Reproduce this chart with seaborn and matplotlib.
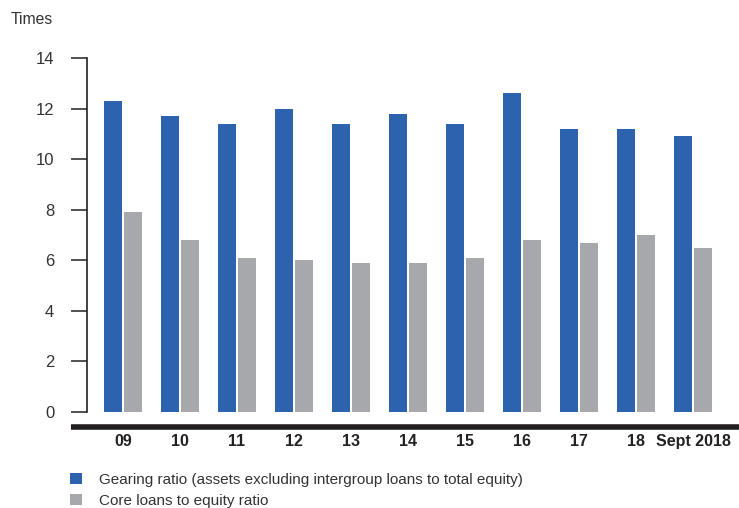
import matplotlib
matplotlib.use("Agg")
import matplotlib.pyplot as plt
from matplotlib.lines import Line2D
import pandas as pd
import seaborn as sns

# values
years = ["09", "10", "11", "12", "13", "14", "15", "16", "17", "18", "Sept 2018"]
gearing = [12.3, 11.7, 11.4, 12.0, 11.4, 11.8, 11.4, 12.6, 11.2, 11.2, 10.9]
core_loans = [7.9, 6.8, 6.1, 6.0, 5.9, 5.9, 6.1, 6.8, 6.7, 7.0, 6.5]
series_names = ["Gearing ratio (assets excluding intergroup loans to total equity)",
                "Core loans to equity ratio"]
colors = ["#2d62ae", "#a7a8ab"]

df = pd.DataFrame({
    "year": years * 2,
    "value": gearing + core_loans,
    "series": [series_names[0]] * len(years) + [series_names[1]] * len(years),
})

sns.set_style("white")
plt.rcParams["font.family"] = ["Liberation Sans", "DejaVu Sans"]
txt = "#333333"

fig = plt.figure(figsize=(7.39, 5.08), dpi=100)
ax = fig.add_axes([87 / 739, 1 - 412 / 508, 1 - 87 / 739, (412 - 58) / 508])

sns.barplot(data=df, x="year", y="value", hue="series", order=years,
            hue_order=series_names, palette=colors, width=0.70, gap=0.1,
            saturation=1, linewidth=0, ax=ax)

ax.set_ylim(0, 14)
ax.set_xlim(-0.63, 10.8)
ax.set_yticks(range(0, 15, 2))
ax.set_xlabel("")
ax.set_ylabel("")

for s in ["top", "right", "bottom"]:
    ax.spines[s].set_visible(False)
ax.spines["left"].set_color("#222222")
ax.spines["left"].set_linewidth(1.2)

ax.tick_params(axis="y", direction="out", length=11.5, width=1.2, color="#333333",
               pad=12, labelsize=12, labelcolor=txt, left=True)
ax.tick_params(axis="x", length=0, pad=16, labelsize=11.5, labelcolor="#222222")
for lab in ax.get_xticklabels():
    lab.set_fontweight("bold")

# thick baseline under the bars
fig.add_artist(Line2D([71 / 739, 1.0], [1 - 427 / 508] * 2, color="#231f20",
                      linewidth=4, solid_capstyle="butt"))

fig.text(11 / 739, 1 - 20 / 508, "Times", fontsize=11.3, color=txt, va="center")

handles, labels = ax.get_legend_handles_labels()
ax.legend(handles, labels, loc="upper left", bbox_to_anchor=(64 / 739, 1 - 467 / 508),
          bbox_transform=fig.transFigure, frameon=False, handlelength=0.75,
          handleheight=0.75, handletextpad=1.15, labelspacing=0.45, fontsize=11,
          labelcolor=txt, borderaxespad=0)

fig.savefig("out.png", dpi=100)
